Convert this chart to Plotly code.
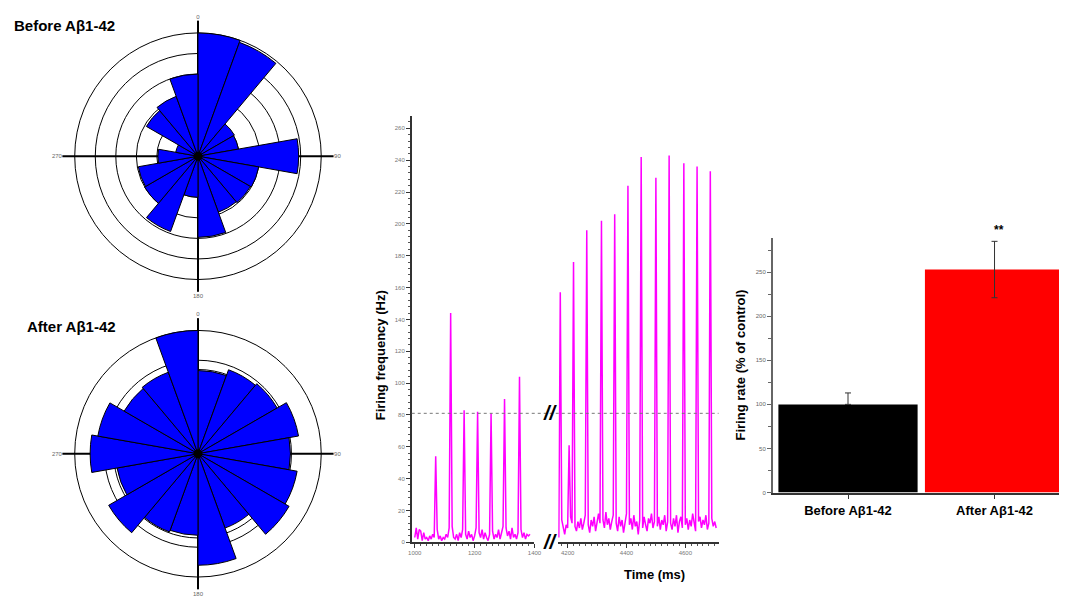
import plotly.graph_objects as go

W, H = 1066, 602
FONT = "Arial, Liberation Sans, sans-serif"


def px(x):
    return x / W


def py(y):
    return 1 - y / H


# ---------------- data ----------------
bin_centers = [10, 30, 50, 70, 90, 110, 130, 150, 170, 190, 210, 230, 250, 270, 290, 310, 330, 350]
before_r = [6.0, 5.9, 2.05, 2.0, 4.9, 3.0, 2.95, 2.9, 3.95, 2.0, 3.9, 3.0, 2.95, 1.95, 1.1, 2.9, 3.1, 4.0]
after_r = [4.05, 4.35, 4.45, 4.97, 4.5, 4.9, 5.12, 3.85, 5.43, 3.97, 4.05, 5.02, 4.0, 5.25, 4.95, 4.15, 4.22, 6.0]
before_rings = [2, 3, 4, 5, 6]
after_rings = [4.1, 4.55, 6]
angle_ticks = [0, 90, 180, 270]
angle_labels = ["0", "90", "180", "270"]

left_hz = [3, 9, 2, 8, 7, 1, 6, 2, 3, 1, 4, 2, 5, 3, 54, 8, 2, 4, 1, 3,
           2, 5, 3, 9, 144, 10, 3, 2, 5, 1, 6, 3, 8, 83, 5, 2, 7, 3, 5, 1,
           4, 9, 82, 6, 3, 8, 2, 6, 3, 1, 5, 81, 7, 2, 5, 3, 8, 2, 6, 10,
           90, 9, 4, 7, 2, 9, 3, 5, 2, 6, 104, 8, 3, 6, 2, 5, 4, 5]
right_hz = [3, 157, 14, 8, 5, 11, 9, 61, 16, 12, 176, 10, 7, 13, 9, 15, 8, 12, 17, 196,
            11, 6, 14, 10, 16, 7, 13, 18, 12, 202, 14, 9, 19, 11, 15, 8, 13, 17, 206, 12,
            7, 16, 10, 14, 6, 12, 18, 224, 11, 15, 8, 17, 10, 13, 5, 14, 242, 9, 16, 11,
            7, 15, 12, 18, 9, 13, 229, 10, 16, 8, 14, 11, 17, 7, 13, 243, 12, 8, 15, 10,
            17, 6, 13, 16, 9, 238, 11, 15, 8, 14, 10, 18, 12, 7, 236, 13, 16, 9, 14, 11,
            17, 8, 12, 233, 15, 10, 13, 9]
left_t = list(range(1000, 1000 + 5 * len(left_hz), 5))
right_t = list(range(4170, 4170 + 5 * len(right_hz), 5))
threshold_hz = 81
left_ticks = [1000, 1200, 1400]
right_ticks = [4200, 4400, 4600]

groups = ["Before Aβ1-42", "After Aβ1-42"]
rate = [100, 253]
rate_err_plus = [13, 32]
rate_err_minus = [0, 32]
bar_colors = ["#000000", "#FF0000"]

# ---------------- figure ----------------
fig = go.Figure()

for sp, rv in (("polar", before_r), ("polar2", after_r)):
    fig.add_trace(go.Barpolar(r=rv, theta=bin_centers, width=[20] * len(bin_centers),
                              marker=dict(color="#0000FF", line=dict(color="black", width=1)),
                              subplot=sp, showlegend=False))
    fig.add_trace(go.Scatterpolar(r=[0], theta=[0], mode="markers", marker=dict(color="black", size=9),
                                  subplot=sp, showlegend=False, hoverinfo="skip"))

fig.add_trace(go.Scatter(x=left_t, y=left_hz, mode="lines", line=dict(color="#FF00FF", width=1.5),
                         xaxis="x2", yaxis="y2", showlegend=False))
fig.add_trace(go.Scatter(x=right_t, y=right_hz, mode="lines", line=dict(color="#FF00FF", width=1.5),
                         xaxis="x3", yaxis="y2", showlegend=False))

fig.add_trace(go.Bar(x=[0, 1], y=rate, width=0.95, marker=dict(color=bar_colors, line=dict(width=0)),
                     error_y=dict(type="data", symmetric=False, array=rate_err_plus, arrayminus=rate_err_minus,
                                  color="#333333", thickness=1, width=3),
                     xaxis="x", yaxis="y", showlegend=False))


def polar_cfg(dom_x, dom_y, rings):
    return dict(
        domain=dict(x=dom_x, y=dom_y),
        bgcolor="white",
        radialaxis=dict(range=[0, 6.6], tickvals=rings, showticklabels=False, ticks="",
                        showline=False, showgrid=True, gridcolor="black", gridwidth=1.2),
        angularaxis=dict(rotation=90, direction="clockwise", tickvals=angle_ticks, ticktext=angle_labels,
                         showline=False, ticks="", showgrid=True, gridcolor="black", gridwidth=1.5,
                         tickfont=dict(size=6, color="#666666", family=FONT)),
    )


cx, r_dom = 196, 137
fig.update_layout(
    width=W, height=H, margin=dict(l=0, r=0, t=0, b=0),
    paper_bgcolor="white", plot_bgcolor="white", showlegend=False,
    font=dict(family=FONT, color="black"),
    polar=polar_cfg([px(cx - r_dom), px(cx + r_dom)], [py(157 + r_dom), py(157 - r_dom)], before_rings),
    polar2=polar_cfg([px(cx - r_dom), px(cx + r_dom)], [py(456 + r_dom), py(456 - r_dom)], after_rings),
    # middle chart
    yaxis2=dict(domain=[py(545), py(117)], range=[0, 267.5], anchor="x2", dtick=20, tick0=0,
                showline=True, linecolor="#333333", linewidth=1.5, ticks="outside", ticklen=4,
                tickcolor="#333333", tickfont=dict(size=6, color="#777777"), showgrid=False, zeroline=False,
                minor=dict(dtick=4, ticks="outside", ticklen=2, tickcolor="#555555")),
    xaxis2=dict(domain=[px(412), px(536)], range=[990, 1400], anchor="y2", tickvals=left_ticks,
                showline=True, linecolor="#333333", linewidth=1.5, ticks="outside", ticklen=4,
                tickcolor="#333333", tickfont=dict(size=6, color="#777777"), showgrid=False, zeroline=False,
                minor=dict(dtick=20, ticks="outside", ticklen=2, tickcolor="#555555")),
    xaxis3=dict(domain=[px(560), px(722)], range=[4168, 4713], anchor="y2", tickvals=right_ticks,
                showline=True, linecolor="#333333", linewidth=1.5, ticks="outside", ticklen=4,
                tickcolor="#333333", tickfont=dict(size=6, color="#777777"), showgrid=False, zeroline=False,
                minor=dict(dtick=20, ticks="outside", ticklen=2, tickcolor="#555555")),
    # right bar chart
    yaxis=dict(domain=[py(495), py(239)], range=[0, 289], anchor="x", tickvals=[0, 50, 100, 150, 200, 250],
               showline=True, linecolor="#666666", linewidth=1.5, ticks="outside", ticklen=4,
               tickcolor="#666666", tickfont=dict(size=6, color="#666666"), showgrid=False, zeroline=False,
               minor=dict(dtick=25, ticks="outside", ticklen=3, tickcolor="#666666")),
    xaxis=dict(domain=[px(776.7), 1.0], range=[-0.514, 1.44], anchor="y", tickvals=[0, 1],
               ticktext=["<b>" + g + "</b>" for g in groups],
               showline=True, linecolor="#333333", linewidth=1.5, ticks="outside", ticklen=5,
               tickcolor="#333333", tickfont=dict(size=13, color="black", family=FONT),
               showgrid=False, zeroline=False),
)

fig.add_shape(type="line", xref="paper", yref="y2", x0=px(412), x1=px(722), y0=threshold_hz, y1=threshold_hz,
              line=dict(color="#777777", width=1, dash="dot"))

ann = [
    dict(text="<b>Before Aβ1-42</b>", x=px(8), y=py(26), xanchor="left", yanchor="middle", font=dict(size=15)),
    dict(text="<b>After Aβ1-42</b>", x=px(21), y=py(328), xanchor="left", yanchor="middle", font=dict(size=15)),
    dict(text="<b>Firing frequency (Hz)</b>", x=px(380), y=py(357), textangle=-90, xanchor="center",
         yanchor="middle", font=dict(size=13)),
    dict(text="<b>Time (ms)</b>", x=px(657), y=py(577), xanchor="center", yanchor="middle", font=dict(size=13)),
    dict(text="<b>Firing rate (% of control)</b>", x=px(744), y=py(367), textangle=-90, xanchor="center",
         yanchor="middle", font=dict(size=13)),
    dict(text="<b>**</b>", x=px(1005), y=py(231), xanchor="center", yanchor="middle", font=dict(size=12)),
]
for a in ann:
    fig.add_annotation(xref="paper", yref="paper", showarrow=False, **a)

for yv in [threshold_hz, 0]:
    fig.add_annotation(xref="paper", yref="y2", x=px(552), y=yv, text="<b><i>//</i></b>", showarrow=False,
                       xanchor="center", yanchor="middle", font=dict(size=20, color="black"))

fig.write_html("out.html")
